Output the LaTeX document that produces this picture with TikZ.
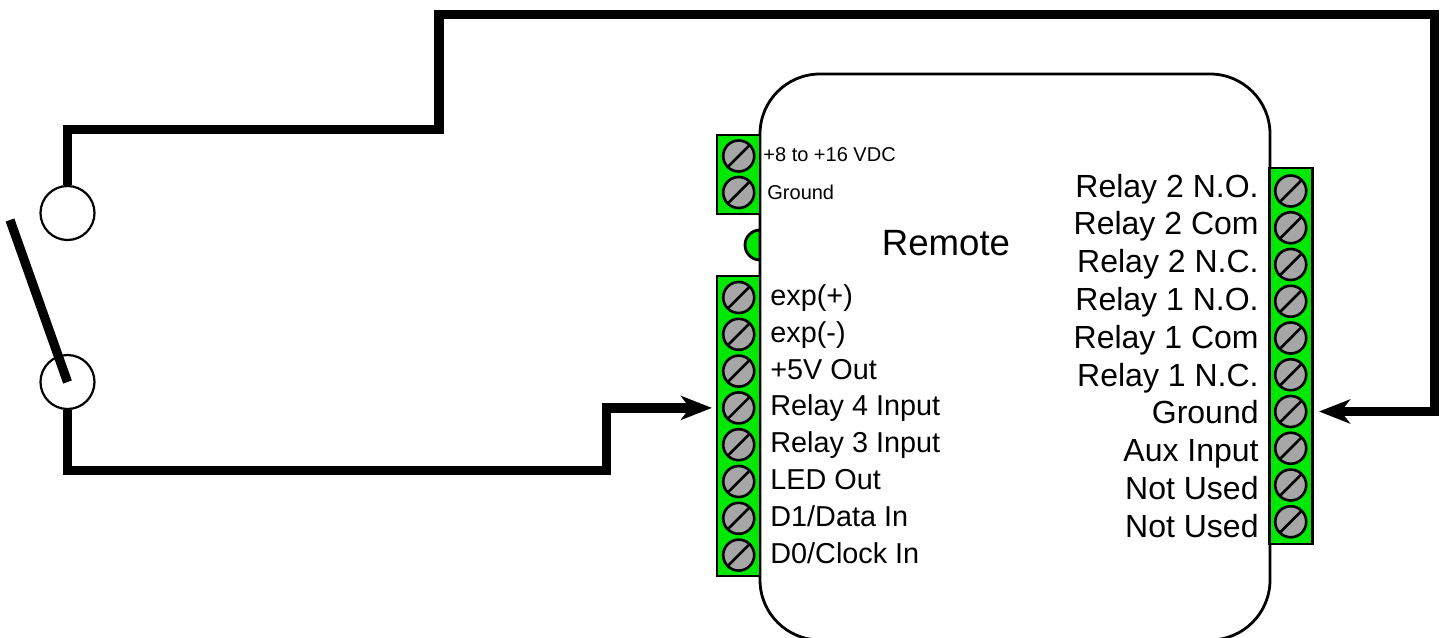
\documentclass[tikz,border=0pt]{standalone}
\usepackage{fontspec}
\setmainfont{Liberation Sans}
\usetikzlibrary{
	arrows.meta,
	positioning
}
\definecolor{termgreen}{RGB}{0,232,0}
\definecolor{screwgray}{RGB}{166,166,166}
\tikzset{
%Define standard arrow tip
>={Stealth[length=15.5pt,width=12pt,inset=4.5pt]},
%Define style for the remote body
bodybox/.style={
	rectangle,
	rounded corners=30pt,
	draw=black, line width=1.4pt,
	fill=white,
	minimum width=255pt,
	minimum height=283pt},
%Define style for terminal strips
strip/.style={
	rectangle,
	draw=black, line width=1.4pt,
	fill=termgreen,
	minimum width=21.5pt,
	inner sep=0pt},
%Define style for screws
screw/.style={
	circle,
	draw=black, line width=1.3pt,
	fill=screwgray,
	minimum size=15.5pt,
	inner sep=0pt,
	path picture={\draw[line width=1.3pt] (path picture bounding box.south west) -- (path picture bounding box.north east);}},
%Define style for switch contacts
contact/.style={
	circle,
	draw=black, line width=1.1pt,
	fill=white,
	minimum size=27pt,
	inner sep=0pt},
% Define wire style
wire/.style={
	line width=4.6pt,
	black},
% Define label styles
lbl/.style={
	font=\fontsize{14.4}{16}\selectfont,
	inner sep=0pt,
	text height=11pt,
	text depth=3pt},
rightlbl/.style={
	font=\fontsize{16}{18}\selectfont,
	inner sep=0pt},
smalllbl/.style={
	font=\fontsize{10}{12}\selectfont,
	inner sep=0pt}
}
\begin{document}
\begin{tikzpicture}[x=0.5pt,y=-0.5pt]
	\clip (0,0) rectangle (1443,637);
	% led sits behind the body
	\node[circle, draw=black, line width=1.4pt, fill=termgreen, minimum size=15pt, inner sep=0pt] (led) at (760,245) {};
	\node[bodybox] (remote) at (1015,357) {};
	\node[font=\fontsize{18.3}{20}\selectfont, inner sep=0pt, anchor=base] (title) at (946,255) {Remote};
	% terminal strips
	\node[strip, minimum height=39.5pt] (powerstrip) at (738.5,174.5) {};
	\node[strip, minimum height=150pt] (leftstrip) at (738.5,426) {};
	\node[strip, minimum height=188pt] (rightstrip) at (1291,356) {};
	% power terminals
	\node[screw] (pscrew1) at (738.7,156) {};
	\node[screw] (pscrew2) at (738.7,192.5) {};
	\node[smalllbl, anchor=base west] (plabel1) at (763,161) {+8 to +16 VDC};
	\node[smalllbl, anchor=base west] (plabel2) at (767,199) {Ground};
	% left terminals
	\foreach \name [count=\i] in {exp(+),exp(-),+5V Out,Relay 4 Input,Relay 3 Input,LED Out,D1/Data In,D0/Clock In}{
		\node[screw] (lscrew\i) at (738.7,{297.5+36.8*(\i-1)}) {};
		\node[lbl, right=7.25pt of lscrew\i] (llabel\i) {\name};
	}
	% right terminals
	\foreach \name [count=\i] in {Relay 2 N.O.,Relay 2 Com,Relay 2 N.C.,Relay 1 N.O.,Relay 1 Com,Relay 1 N.C.,Ground,Aux Input,Not Used,Not Used}{
		\node[screw] (rscrew\i) at (1290.7,{191+36.75*(\i-1)}) {};
		\node[rightlbl, anchor=base east] (rlabel\i) at (1259,{197+37.8*(\i-1)}) {\name};
	}
	% switch
	\node[contact] (termtop) at (67.5,213) {};
	\node[contact] (termbot) at (67.5,382) {};
	\coordinate (swfree) at (10,220);
	\draw[wire] (swfree) -- (termbot.center);
	% wires
	\coordinate (bendtop) at (439,129.5);
	\coordinate (bendcorner) at (1434.5,14.5);
	\coordinate (bendbot) at (67.5,470.5);
	\coordinate (bendmid) at (606.5,470.5);
	\draw[wire,->,shorten >=5.75pt] (termtop.north) |- (bendtop) |- (bendcorner) |- (rscrew7);
	\draw[wire,->,shorten >=5pt] (termbot.south) -- (bendbot) -- (bendmid) |- (lscrew4);
\end{tikzpicture}
\end{document}
